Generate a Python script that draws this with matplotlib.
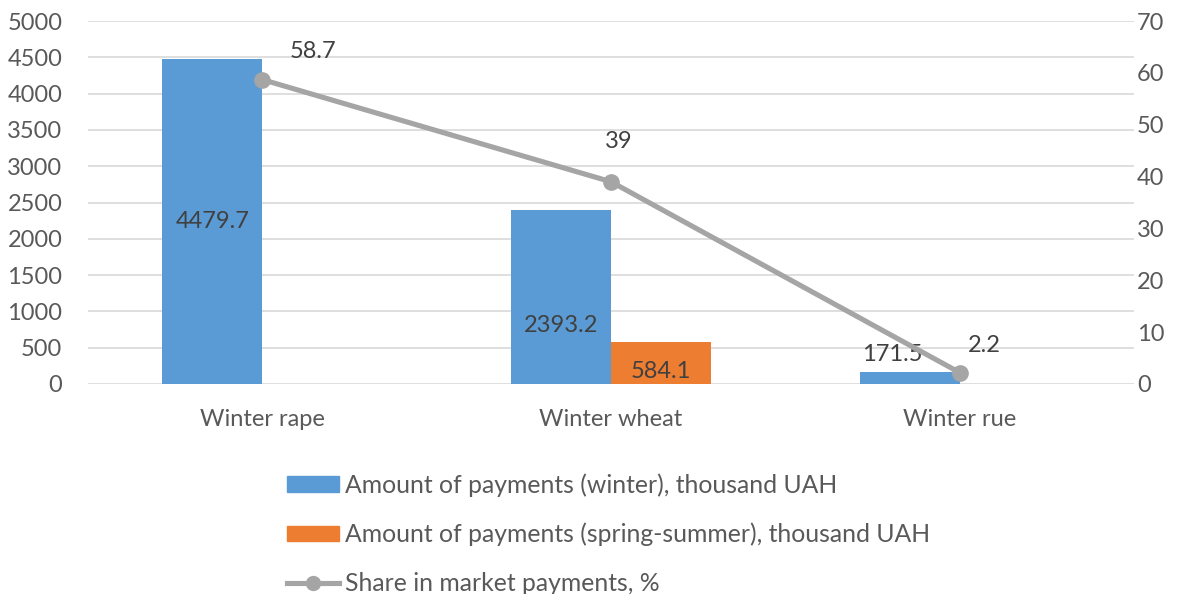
import matplotlib
matplotlib.use("Agg")
import matplotlib.pyplot as plt
from matplotlib.lines import Line2D
from matplotlib.patches import Patch

plt.rcParams['font.family'] = ['Lato', 'DejaVu Sans']

crops = ['Winter rape', 'Winter wheat', 'Winter rue']
winter = [4479.7, 2393.2, 171.5]
spring = [None, 584.1, None]
share = [58.7, 39, 2.2]

blue = '#5B9BD5'
orange = '#ED7D31'
grey = '#A5A5A5'
txt = '#595959'

fig = plt.figure(figsize=(11.96, 5.94), dpi=100)
ax = fig.add_axes([88 / 1196, 1 - 384 / 594, (1134 - 88) / 1196, (384 - 21) / 594])
ax2 = ax.twinx()

w = 0.287
x = list(range(len(crops)))
ax.bar(x, winter, width=-w, align='edge', color=blue, zorder=2)
sx = [i for i, v in zip(x, spring) if v is not None]
sv = [v for v in spring if v is not None]
ax.bar(sx, sv, width=w, align='edge', color=orange, zorder=2)

ax.set_xlim(-0.5, 2.5)
ax.set_ylim(0, 5000)
ax.set_yticks(range(0, 5001, 500))
ax.set_xticks(x)
ax.set_xticklabels(crops)
ax2.set_ylim(0, 70)
ax2.set_yticks(range(0, 71, 10))

ax.yaxis.grid(True, color='#D9D9D9', lw=1.2, zorder=0)
ax.set_axisbelow(True)
for a in (ax, ax2):
    for s in a.spines.values():
        s.set_visible(False)
    a.tick_params(length=0, labelsize=17, colors=txt)
ax.tick_params(axis='y', pad=18.5)
ax.tick_params(axis='x', pad=18)
ax2.tick_params(axis='y', pad=2)

ax2.plot(x, share, color=grey, lw=3.7, marker='o', markersize=11, zorder=3)

# bar labels
fs = 17
lc = '#404040'
ax.annotate(f'{winter[0]}', (x[0] - w / 2, winter[0] / 2), ha='center', va='center', fontsize=fs, color=lc)
ax.annotate(f'{winter[1]}', (x[1] - w / 2, 0), xytext=(0, 58), textcoords='offset pixels',
            ha='center', va='center', fontsize=fs, color=lc)
ax.annotate(f'{spring[1]}', (x[1] + w / 2, 0), xytext=(0, 12), textcoords='offset pixels',
            ha='center', va='center', fontsize=fs, color=lc)
ax.annotate(f'{winter[2]}', (x[2] - w / 2, winter[2]), xytext=(-17, 17), textcoords='offset pixels',
            ha='center', va='center', fontsize=fs, color=lc)

# line labels
offs = [(51, 28), (8, 40), (25, 27)]
for xi, v, o in zip(x, share, offs):
    ax2.annotate(f'{v:g}', (xi, v), xytext=o, textcoords='offset pixels',
                 ha='center', va='center', fontsize=fs, color=lc)

handles = [
    Patch(color=blue),
    Patch(color=orange),
    Line2D([], [], color=grey, lw=3.7, marker='o', markersize=10),
]
labels = [
    'Amount of payments (winter), thousand UAH',
    'Amount of payments (spring-summer), thousand UAH',
    'Share in market payments, %',
]
fig.legend(handles, labels, loc='upper left', bbox_to_anchor=(287 / 1196, 1 - 473 / 594),
           borderaxespad=0, borderpad=0,
           frameon=False, fontsize=17.8, labelcolor=txt, handlelength=2.1, handleheight=0.6,
           handletextpad=0.25, labelspacing=1.05)

fig.savefig('out.png', dpi=100)
